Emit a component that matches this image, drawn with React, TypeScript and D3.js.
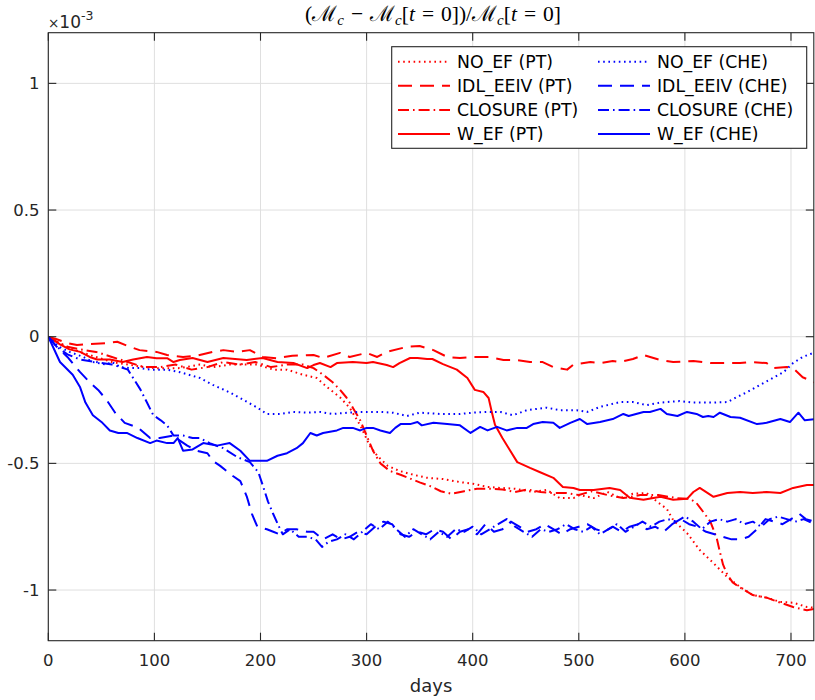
import React from "react";
import * as d3 from "d3";

// Relative change of M_c, in units of 1e-3, sampled against days
type Pt = [number, number];

const noEfPt: Pt[] = [[0,0],[8,-0.02],[18,-0.04],[30,-0.06],[45,-0.08],[60,-0.1],[75,-0.11],[90,-0.12],[105,-0.125],[124,-0.124],[143,-0.11],[155,-0.12],[171,-0.11],[197,-0.11],[212,-0.13],[225,-0.13],[240,-0.15],[253,-0.163],[263,-0.2],[275,-0.24],[284,-0.28],[294,-0.35],[303,-0.43],[310,-0.47],[320,-0.51],[331,-0.53],[344,-0.545],[357,-0.557],[372,-0.562],[388,-0.574],[400,-0.58],[414,-0.593],[426,-0.597],[440,-0.6],[457,-0.613],[470,-0.605],[482,-0.637],[495,-0.637],[501,-0.625],[514,-0.637],[527,-0.613],[539,-0.637],[551,-0.62],[564,-0.617],[574,-0.652],[583,-0.68],[589,-0.724],[602,-0.775],[614,-0.842],[627,-0.894],[640,-0.949],[652,-0.988],[664,-1.02],[677,-1.03],[690,-1.047],[702,-1.05],[715,-1.067],[722,-1.07]];

const idlEeivPt: Pt[] = [[0,0],[8,-0.01],[18,-0.025],[27,-0.033],[39,-0.029],[55,-0.025],[65,-0.02],[77,-0.04],[86,-0.053],[102,-0.06],[112,-0.072],[127,-0.08],[140,-0.075],[155,-0.06],[165,-0.053],[178,-0.06],[190,-0.053],[202,-0.08],[215,-0.085],[230,-0.075],[250,-0.072],[259,-0.084],[275,-0.064],[284,-0.08],[300,-0.064],[310,-0.08],[319,-0.06],[338,-0.04],[350,-0.037],[363,-0.053],[376,-0.08],[388,-0.084],[400,-0.08],[416,-0.08],[429,-0.092],[442,-0.092],[454,-0.1],[466,-0.1],[476,-0.12],[489,-0.13],[495,-0.11],[511,-0.1],[520,-0.104],[532,-0.096],[539,-0.1],[551,-0.088],[561,-0.072],[577,-0.092],[589,-0.1],[608,-0.096],[624,-0.104],[636,-0.104],[652,-0.104],[661,-0.1],[677,-0.104],[683,-0.124],[696,-0.12],[702,-0.124],[711,-0.16],[722,-0.18]];

const closurePt: Pt[] = [[0,0],[8,-0.02],[18,-0.04],[30,-0.05],[45,-0.06],[60,-0.08],[75,-0.1],[90,-0.12],[105,-0.12],[120,-0.11],[135,-0.13],[150,-0.12],[165,-0.1],[180,-0.11],[195,-0.1],[210,-0.12],[225,-0.11],[240,-0.11],[250,-0.124],[259,-0.15],[268,-0.18],[275,-0.21],[281,-0.24],[287,-0.28],[294,-0.33],[300,-0.39],[306,-0.45],[313,-0.5],[322,-0.53],[332,-0.545],[341,-0.56],[350,-0.575],[360,-0.59],[370,-0.61],[380,-0.62],[392,-0.61],[404,-0.6],[416,-0.6],[428,-0.603],[440,-0.613],[452,-0.603],[464,-0.613],[476,-0.617],[488,-0.617],[500,-0.625],[512,-0.61],[527,-0.625],[542,-0.637],[558,-0.625],[575,-0.625],[592,-0.637],[605,-0.64],[611,-0.657],[617,-0.69],[624,-0.73],[630,-0.795],[633,-0.85],[636,-0.9],[640,-0.94],[645,-0.97],[652,-0.99],[664,-1.02],[677,-1.03],[690,-1.05],[702,-1.067],[715,-1.08],[722,-1.075]];

const wEfPt: Pt[] = [[0,0],[2,-0.005],[11,-0.03],[20,-0.05],[30,-0.06],[39,-0.08],[46,-0.09],[58,-0.09],[70,-0.1],[80,-0.09],[93,-0.08],[102,-0.085],[112,-0.085],[118,-0.1],[124,-0.092],[136,-0.084],[150,-0.1],[165,-0.084],[187,-0.092],[202,-0.084],[216,-0.1],[231,-0.104],[244,-0.124],[250,-0.112],[256,-0.104],[266,-0.12],[272,-0.104],[287,-0.1],[300,-0.104],[306,-0.1],[319,-0.112],[325,-0.12],[331,-0.104],[341,-0.084],[348,-0.084],[357,-0.088],[362,-0.088],[372,-0.108],[385,-0.13],[395,-0.163],[402,-0.21],[410,-0.218],[415,-0.242],[418,-0.297],[421,-0.348],[428,-0.4],[442,-0.495],[454,-0.518],[463,-0.534],[476,-0.557],[485,-0.593],[495,-0.597],[501,-0.605],[514,-0.605],[529,-0.597],[539,-0.605],[548,-0.636],[561,-0.644],[577,-0.632],[589,-0.644],[602,-0.64],[608,-0.613],[614,-0.597],[627,-0.632],[640,-0.617],[652,-0.613],[664,-0.617],[677,-0.613],[690,-0.617],[702,-0.597],[715,-0.585],[722,-0.585]];

const noEfChe: Pt[] = [[0,0],[10,-0.04],[20,-0.06],[33,-0.08],[42,-0.1],[54,-0.11],[60,-0.1],[68,-0.12],[77,-0.124],[86,-0.124],[96,-0.13],[112,-0.13],[124,-0.14],[143,-0.163],[155,-0.19],[171,-0.22],[184,-0.25],[197,-0.28],[206,-0.305],[218,-0.305],[231,-0.297],[244,-0.3],[256,-0.297],[268,-0.305],[282,-0.3],[294,-0.297],[313,-0.297],[325,-0.3],[338,-0.313],[350,-0.3],[369,-0.305],[388,-0.305],[400,-0.3],[414,-0.297],[426,-0.297],[438,-0.31],[451,-0.29],[470,-0.28],[482,-0.29],[498,-0.29],[508,-0.297],[520,-0.277],[539,-0.258],[551,-0.258],[564,-0.27],[577,-0.26],[595,-0.254],[608,-0.26],[627,-0.26],[640,-0.258],[649,-0.238],[659,-0.218],[671,-0.19],[683,-0.163],[693,-0.14],[702,-0.104],[711,-0.08],[721,-0.064]];

const idlEeivChe: Pt[] = [[0,0],[8,-0.04],[18,-0.08],[30,-0.14],[39,-0.18],[47,-0.21],[55,-0.25],[63,-0.3],[72,-0.34],[85,-0.36],[96,-0.4],[105,-0.4],[118,-0.39],[124,-0.41],[131,-0.43],[140,-0.45],[150,-0.46],[155,-0.49],[162,-0.51],[174,-0.55],[181,-0.57],[187,-0.63],[192,-0.7],[197,-0.75],[206,-0.76],[212,-0.77],[218,-0.78],[225,-0.76],[234,-0.76],[244,-0.77],[250,-0.77],[259,-0.8],[268,-0.78],[276,-0.8],[284,-0.79],[292,-0.77],[300,-0.78],[308,-0.75],[316,-0.73],[324,-0.74],[332,-0.78],[340,-0.79],[348,-0.77],[356,-0.78],[364,-0.76],[372,-0.77],[380,-0.8],[388,-0.77],[396,-0.76],[404,-0.78],[412,-0.74],[420,-0.77],[428,-0.76],[436,-0.73],[444,-0.75],[452,-0.77],[460,-0.76],[468,-0.74],[476,-0.76],[484,-0.78],[492,-0.76],[500,-0.75],[508,-0.74],[516,-0.76],[524,-0.77],[532,-0.75],[540,-0.77],[548,-0.75],[556,-0.74],[564,-0.76],[572,-0.75],[580,-0.77],[588,-0.74],[596,-0.72],[604,-0.74],[612,-0.75],[620,-0.77],[628,-0.78],[636,-0.79],[644,-0.8],[652,-0.8],[660,-0.79],[668,-0.76],[676,-0.72],[684,-0.73],[692,-0.74],[700,-0.72],[708,-0.7],[714,-0.72],[722,-0.73]];

const closureChe: Pt[] = [[0,0],[8,-0.04],[18,-0.07],[30,-0.09],[45,-0.1],[60,-0.11],[68,-0.12],[75,-0.13],[81,-0.17],[87,-0.21],[93,-0.26],[99,-0.31],[106,-0.33],[112,-0.35],[118,-0.39],[127,-0.39],[136,-0.4],[143,-0.4],[152,-0.42],[165,-0.44],[178,-0.475],[190,-0.495],[198,-0.535],[202,-0.585],[207,-0.65],[212,-0.7],[218,-0.755],[221,-0.78],[228,-0.76],[236,-0.79],[244,-0.79],[252,-0.8],[258,-0.83],[264,-0.81],[272,-0.8],[280,-0.78],[288,-0.8],[296,-0.77],[304,-0.74],[312,-0.76],[320,-0.73],[328,-0.76],[336,-0.79],[344,-0.76],[352,-0.78],[360,-0.8],[368,-0.77],[376,-0.79],[384,-0.76],[392,-0.77],[400,-0.75],[408,-0.78],[416,-0.76],[424,-0.74],[432,-0.72],[440,-0.75],[448,-0.77],[456,-0.79],[464,-0.76],[472,-0.77],[480,-0.76],[488,-0.74],[496,-0.76],[504,-0.77],[512,-0.75],[520,-0.78],[528,-0.76],[536,-0.74],[544,-0.77],[552,-0.75],[560,-0.73],[568,-0.75],[576,-0.73],[584,-0.72],[592,-0.73],[600,-0.71],[608,-0.73],[616,-0.76],[624,-0.73],[632,-0.72],[640,-0.73],[648,-0.72],[656,-0.74],[664,-0.73],[672,-0.75],[680,-0.72],[688,-0.71],[696,-0.72],[704,-0.73],[712,-0.72],[722,-0.74]];

const wEfChe: Pt[] = [[0,0],[11,-0.1],[23,-0.15],[30,-0.2],[35,-0.26],[42,-0.31],[51,-0.34],[58,-0.37],[66,-0.38],[74,-0.38],[84,-0.4],[96,-0.42],[102,-0.41],[112,-0.42],[118,-0.42],[122,-0.4],[127,-0.45],[136,-0.445],[146,-0.42],[159,-0.43],[171,-0.42],[181,-0.45],[190,-0.49],[206,-0.49],[216,-0.47],[225,-0.46],[234,-0.44],[240,-0.42],[247,-0.38],[253,-0.39],[259,-0.38],[272,-0.37],[278,-0.36],[287,-0.36],[294,-0.37],[300,-0.36],[306,-0.36],[313,-0.37],[322,-0.38],[327,-0.36],[332,-0.345],[341,-0.345],[348,-0.337],[352,-0.35],[363,-0.34],[376,-0.345],[388,-0.35],[398,-0.38],[407,-0.356],[414,-0.37],[423,-0.356],[432,-0.37],[442,-0.36],[451,-0.36],[457,-0.345],[466,-0.337],[476,-0.34],[482,-0.36],[492,-0.34],[501,-0.325],[508,-0.345],[520,-0.337],[532,-0.325],[542,-0.305],[547,-0.313],[561,-0.297],[567,-0.297],[577,-0.285],[583,-0.305],[593,-0.313],[602,-0.297],[611,-0.305],[617,-0.317],[622,-0.313],[627,-0.317],[633,-0.3],[643,-0.317],[652,-0.32],[668,-0.345],[677,-0.34],[690,-0.325],[699,-0.337],[707,-0.3],[713,-0.33],[723,-0.325]];

const xTicks = [0, 100, 200, 300, 400, 500, 600, 700];
const yTicks = [-1, -0.5, 0, 0.5, 1];

const RED = "#ff0000";
const BLUE = "#0000ff";
const DOT = "1.6,3.6";
const DASH = "14,8";
const DASHDOT = "11,4,1.6,4";
const SOLID = "none";

const series = [
  { label: "NO_EF (PT)", data: noEfPt, color: RED, dash: DOT },
  { label: "IDL_EEIV (PT)", data: idlEeivPt, color: RED, dash: DASH },
  { label: "CLOSURE (PT)", data: closurePt, color: RED, dash: DASHDOT },
  { label: "W_EF (PT)", data: wEfPt, color: RED, dash: SOLID },
  { label: "NO_EF (CHE)", data: noEfChe, color: BLUE, dash: DOT },
  { label: "IDL_EEIV (CHE)", data: idlEeivChe, color: BLUE, dash: DASH },
  { label: "CLOSURE (CHE)", data: closureChe, color: BLUE, dash: DASHDOT },
  { label: "W_EF (CHE)", data: wEfChe, color: BLUE, dash: SOLID },
];

const W = 815;
const H = 700;
const L = 48.3;
const R = 813.8;
const T = 32.7;
const B = 640.7;
const AX = "#262626";
const FONT = "'DejaVu Sans', sans-serif";

// title pieces: [text, italic, subscript, gap before]
const titleParts: [string, boolean, boolean, number][] = [
  ["(ℳ", false, false, 0],
  ["c", true, true, 0],
  ["−", false, false, 7],
  ["ℳ", false, false, 7],
  ["c", true, true, 0],
  ["[", false, false, 0],
  ["t", true, false, 0],
  ["=", false, false, 7],
  ["0])/ℳ", false, false, 7],
  ["c", true, true, 0],
  ["[", false, false, 0],
  ["t", true, false, 0],
  ["=", false, false, 7],
  ["0]", false, false, 7],
];

export default function App() {
  const x = d3.scaleLinear().domain([0, 721.5]).range([L, R]);
  const y = d3.scaleLinear().domain([-1.2, 1.2]).range([B, T]);
  const line = d3
    .line<Pt>()
    .x((d) => x(d[0]))
    .y((d) => y(d[1]));

  const fmtY = (v: number) => (v === 0 ? "0" : String(v));

  // lay out the title pieces left to right with measured-free estimates
  const titleSize = 21.5;
  const subSize = 15;

  return (
    <svg
      width={W}
      height={H}
      style={{ position: "absolute", left: 0, top: 0, display: "block", background: "#fff" }}
      fontFamily={FONT}
    >
      <defs>
        <clipPath id="plotClip">
          <rect x={L} y={T} width={R - L} height={B - T} />
        </clipPath>
      </defs>
      <rect x={0} y={0} width={W} height={H} fill="#fff" />

      {/* grid */}
      <g stroke="#dfdfdf" strokeWidth={1}>
        {xTicks.map((t) => (
          <line key={"gx" + t} x1={x(t)} x2={x(t)} y1={T} y2={B} />
        ))}
        {yTicks.map((t) => (
          <line key={"gy" + t} x1={L} x2={R} y1={y(t)} y2={y(t)} />
        ))}
      </g>

      {/* data */}
      <g clipPath="url(#plotClip)" fill="none" strokeWidth={2} strokeLinejoin="round">
        {series.map((s) => (
          <path
            key={s.label}
            d={line(s.data) || ""}
            stroke={s.color}
            strokeDasharray={s.dash === SOLID ? undefined : s.dash}
          />
        ))}
      </g>

      {/* axes box and ticks */}
      <g stroke={AX} strokeWidth={1.1} fill="none">
        <rect x={L} y={T} width={R - L} height={B - T} />
        {xTicks.map((t) => (
          <g key={"tx" + t}>
            <line x1={x(t)} x2={x(t)} y1={B} y2={B - 8} />
            <line x1={x(t)} x2={x(t)} y1={T} y2={T + 8} />
          </g>
        ))}
        {yTicks.map((t) => (
          <g key={"ty" + t}>
            <line x1={L} x2={L + 8} y1={y(t)} y2={y(t)} />
            <line x1={R} x2={R - 8} y1={y(t)} y2={y(t)} />
          </g>
        ))}
      </g>

      {/* tick labels */}
      <g fill={AX} fontSize={16.5}>
        {xTicks.map((t) => (
          <text key={"lx" + t} x={x(t)} y={666} textAnchor="middle">
            {t}
          </text>
        ))}
        {yTicks.map((t) => (
          <text key={"ly" + t} x={39.5} y={y(t)} textAnchor="end" dominantBaseline="central">
            {fmtY(t)}
          </text>
        ))}
      </g>

      {/* exponent */}
      <text x={48} y={27.5} fill={AX} fontSize={17}>
        <tspan fontSize={13.5}>×</tspan>
        <tspan>10</tspan>
        <tspan fontSize={12.5} dy={-8}>-3</tspan>
      </text>

      {/* x label */}
      <text x={(L + R) / 2} y={692} textAnchor="middle" fill={AX} fontSize={18}>
        days
      </text>

      {/* title */}
      <text
        x={(L + R) / 2 + 2}
        y={21}
        textAnchor="middle"
        fill="#000"
        fontSize={titleSize}
        fontFamily="'Liberation Serif', 'DejaVu Serif', serif"
      >
        {titleParts.map(([txt, it, sub, gap], i) => {
          const prevSub = i > 0 && titleParts[i - 1][2];
          const dy = sub && !prevSub ? 4 : !sub && prevSub ? -4 : 0;
          return (
            <tspan
              key={"tt" + i}
              dx={gap || undefined}
              dy={dy || undefined}
              fontStyle={it ? "italic" : undefined}
              fontSize={sub ? subSize : undefined}
            >
              {txt}
            </tspan>
          );
        })}
      </text>

      {/* legend */}
      <g>
        <rect x={391.7} y={46.7} width={415} height={101.6} fill="#fff" stroke={AX} strokeWidth={1.1} />
        {series.map((s, i) => {
          const col = i < 4 ? 0 : 1;
          const row = i % 4;
          const cy = 61.7 + row * 24.1;
          const x0 = col === 0 ? 398 : 598;
          return (
            <g key={"lg" + s.label}>
              <line
                x1={x0}
                x2={x0 + 52}
                y1={cy}
                y2={cy}
                stroke={s.color}
                strokeWidth={2}
                strokeDasharray={s.dash === SOLID ? undefined : s.dash}
              />
              <text x={x0 + 59} y={cy} dominantBaseline="central" fill="#000" fontSize={17.3}>
                {s.label}
              </text>
            </g>
          );
        })}
      </g>
    </svg>
  );
}
